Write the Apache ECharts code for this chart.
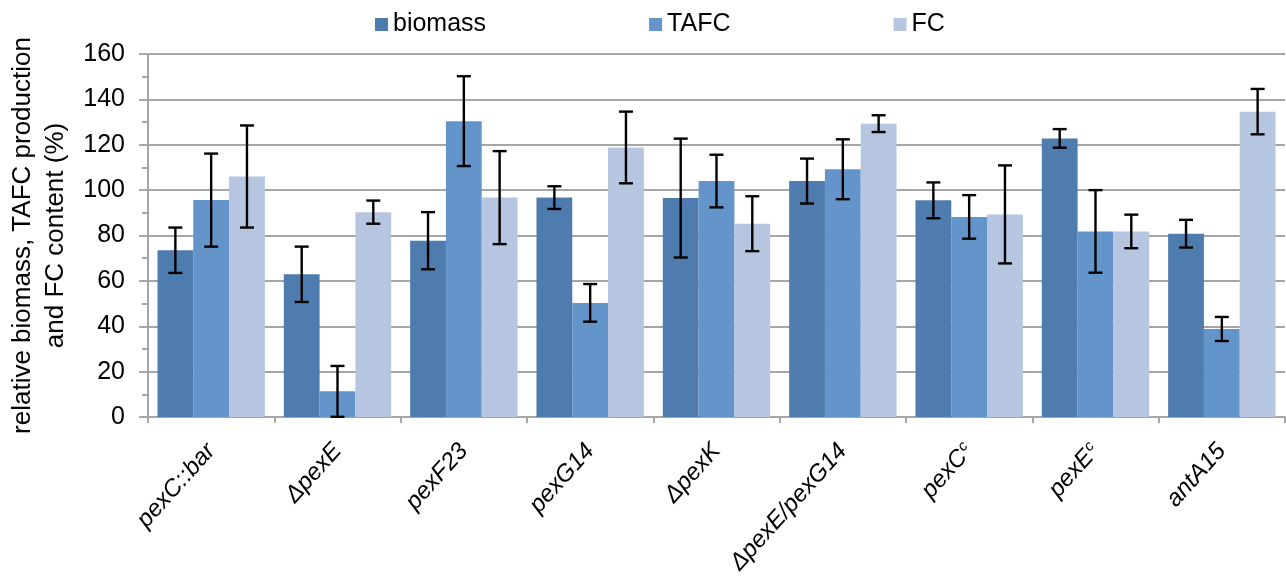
<!DOCTYPE html>
<html>
<head>
<meta charset="utf-8">
<script src="https://cdn.jsdelivr.net/npm/echarts@6/dist/echarts.min.js"></script>
<style>html,body{margin:0;padding:0;background:#fff}#c{width:1286px;height:578px}</style>
</head>
<body>
<div id="c"></div>
<script>
const categories = ['pexC::bar','ΔpexE','pexF23','pexG14','ΔpexK','ΔpexE/pexG14','pexC^c','pexE^c','antA15'];
const seriesNames = ['biomass','TAFC','FC'];
const biomass    = [73.5, 62.9, 77.7, 96.7, 96.5, 104.0, 95.5, 122.8, 80.8];
const biomassErr = [10.0, 12.2, 12.6, 5.0, 26.2, 9.9, 7.9, 4.1, 6.1];
const tafc       = [95.6, 11.3, 130.4, 50.3, 104.0, 109.2, 88.2, 81.8, 38.8];
const tafcErr    = [20.5, 11.2, 19.8, 8.3, 11.6, 13.2, 9.6, 18.2, 5.3];
const fc         = [106.0, 90.3, 96.7, 118.8, 85.2, 129.3, 89.3, 81.8, 134.6];
const fcErr      = [22.5, 5.1, 20.5, 15.8, 12.1, 3.7, 21.6, 7.4, 10.0];
const yTicks = {min: 0, max: 160, interval: 20};

const colors = ['#4E7CAE', '#6395CA', '#B6C6E0'];
const values = [biomass, tafc, fc];
const errs = [biomassErr, tafcErr, fcErr];
const GAP = 0.15;
const FONT = '"Liberation Sans", Arial, sans-serif';

function errSeries(idx) {
  return {
    type: 'custom',
    name: seriesNames[idx] + ' error',
    z: 10,
    silent: true,
    data: categories.map((c, i) => [i, values[idx][i] - errs[idx][i], values[idx][i] + errs[idx][i]]),
    encode: {x: 0, y: [1, 2]},
    renderItem: function (params, api) {
      const cat = api.value(0), lo = api.value(1), hi = api.value(2);
      const band = api.size([1, 0])[0];
      const bw = band * (1 - GAP) / 3;
      const x = api.coord([cat, 0])[0] + (idx - 1) * bw;
      const yl = api.coord([cat, Math.max(lo, 0)])[1];
      const yh = api.coord([cat, hi])[1];
      const cw = 7;
      const st = {stroke: '#000', lineWidth: 2.4};
      return {
        type: 'group',
        children: [
          {type: 'line', shape: {x1: x, y1: yl, x2: x, y2: yh}, style: st},
          {type: 'line', shape: {x1: x - cw, y1: yh, x2: x + cw, y2: yh}, style: st},
          {type: 'line', shape: {x1: x - cw, y1: yl, x2: x + cw, y2: yl}, style: st}
        ]
      };
    }
  };
}

const chart = echarts.init(document.getElementById('c'), null, {renderer: 'canvas'});
chart.setOption({
  animation: false,
  textStyle: {fontFamily: FONT},
  legend: {
    data: seriesNames,
    left: 370,
    top: 7,
    icon: 'rect',
    itemWidth: 13,
    itemHeight: 13,
    itemGap: 163,
    textStyle: {fontSize: 25, color: '#000', fontFamily: FONT}
  },
  grid: {left: 148, right: 1, top: 54, bottom: 161, containLabel: false, outerBoundsMode: 'none'},
  xAxis: {
    type: 'category',
    data: categories,
    axisLine: {lineStyle: {color: '#A6A6A6', width: 2}},
    axisTick: {show: true, interval: 0, length: 6, lineStyle: {color: '#A6A6A6', width: 2}},
    axisLabel: {
      interval: 0,
      rotate: 48,
      margin: 30,
      color: '#000',
      fontSize: 24,
      fontStyle: 'italic',
      fontFamily: FONT,
      formatter: function (v) {
        if (v.indexOf('^') >= 0) {
          const p = v.split('^');
          return '{m|' + p[0] + '}{s|' + p[1] + '}';
        }
        return '{m|' + v + '}';
      },
      rich: {
        m: {fontSize: 24, fontStyle: 'italic', fontFamily: FONT, color: '#000'},
        s: {fontSize: 15, fontStyle: 'italic', fontFamily: FONT, color: '#000', verticalAlign: 'top', padding: [0, 0, 10, 1]}
      }
    }
  },
  yAxis: {
    type: 'value',
    min: yTicks.min,
    max: yTicks.max,
    interval: yTicks.interval,
    name: 'relative biomass, TAFC production\nand FC content (%)',
    nameLocation: 'middle',
    nameRotate: 90,
    nameGap: 76,
    nameTextStyle: {fontSize: 26, color: '#000', lineHeight: 33, fontFamily: FONT},
    axisLine: {show: true, lineStyle: {color: '#A6A6A6', width: 2}},
    axisTick: {show: true, length: 9, lineStyle: {color: '#A6A6A6', width: 2}},
    minorTick: {show: true, splitNumber: 2, length: 6, lineStyle: {color: '#A6A6A6', width: 2}},
    splitLine: {show: true, lineStyle: {color: '#A6A6A6', width: 2}},
    axisLabel: {fontSize: 25, color: '#000', margin: 23, fontFamily: FONT}
  },
  series: [
    {type: 'bar', name: 'biomass', data: biomass, itemStyle: {color: colors[0]}, barGap: '0%', barCategoryGap: '15%'},
    {type: 'bar', name: 'TAFC', data: tafc, itemStyle: {color: colors[1]}, barGap: '0%', barCategoryGap: '15%'},
    {type: 'bar', name: 'FC', data: fc, itemStyle: {color: colors[2]}, barGap: '0%', barCategoryGap: '15%'},
    errSeries(0), errSeries(1), errSeries(2)
  ]
});
</script>
</body>
</html>
